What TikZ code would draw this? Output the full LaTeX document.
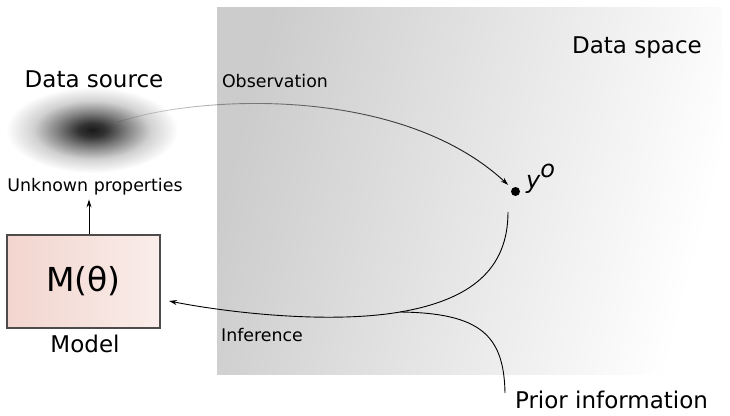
\documentclass[tikz,border=0pt]{standalone}
\usepackage{fontspec}
\setmainfont{DejaVu Sans}
\usetikzlibrary{arrows.meta,fadings,shapes.geometric}
\pgfdeclareradialshading{blobshade}{\pgfpoint{0bp}{0bp}}{color(0bp)=(black!90); color(4bp)=(black!80); color(10bp)=(black!50); color(17bp)=(black!18); color(25bp)=(white); color(50bp)=(white)}
\tikzfading[name=obsfade, left color=transparent!90, right color=transparent!0]
\definecolor{boxleft}{RGB}{242,213,206}
\definecolor{boxright}{RGB}{250,237,234}
\definecolor{boxedge}{RGB}{80,75,75}
\begin{document}
\begin{tikzpicture}[x=1pt,y=-1pt,
  big/.style={font=\fontsize{23}{27}\selectfont, inner sep=0pt, anchor=base},
  small/.style={font=\fontsize{17.4}{21}\selectfont, inner sep=0pt, anchor=base},
  link/.style={line width=0.9pt},
  tip/.style={-{Stealth[length=8pt,width=5pt]}}]
\useasboundingbox (0,0) rectangle (730,415);
% data space background
\shade[left color=black!20, right color=white, shading angle=75] (217,7) rectangle (722,374);
% data source blob
\node[ellipse, shade, shading=blobshade, minimum width=172pt, minimum height=86pt, inner sep=0pt] (src) at (92,130) {};
% texts
\node[big] (srclab) at (94,87) {Data source};
\node[small] (unk) at (95,191) {Unknown properties};
\node[small] (obslab) at (275,87) {Observation};
\node[small] (inflab) at (262,341.7) {Inference};
\node[big] (prior) at (611.5,408) {Prior information};
\node[big] (dspace) at (637,53) {Data space};
\node[big] (modlab) at (85,352) {Model};
% model box
\node[draw=boxedge, line width=1.1pt, left color=boxleft, right color=boxright,
      minimum width=153pt, minimum height=93pt, inner sep=0pt,
      font=\fontsize{33}{40}\selectfont] (model) at (83.5,281.5) {M(θ)};
% observation point
\node[circle, fill=black, inner sep=0pt, minimum size=9pt] (yo) at (515.5,191.5) {};
\node[anchor=base west, inner sep=0pt, font=\fontsize{24}{28}\selectfont\itshape] (yolab) at (526,188) {y\raisebox{11pt}{o}};
% coordinates
\coordinate (obsstart) at (118,122);
\coordinate (infstart) at (508,212);
\coordinate (merge) at (400,312);
\coordinate (inftip) at (169,301);
\coordinate (priorstart) at (505,393);
% connectors
\draw[link, tip] ([xshift=5.5pt]model.north) -- ++(0,-35);
\draw[link, tip, path fading=obsfade, shorten >=5pt] (obsstart) .. controls (200,95) and (400,85) .. (yo);
\draw[link, tip] (infstart) .. controls (508,270) and (470,300) .. (merge) .. controls (330,324) and (230,313) .. (inftip);
\draw[link] (priorstart) .. controls (504,335) and (480,313) .. (merge);
\end{tikzpicture}
\end{document}
